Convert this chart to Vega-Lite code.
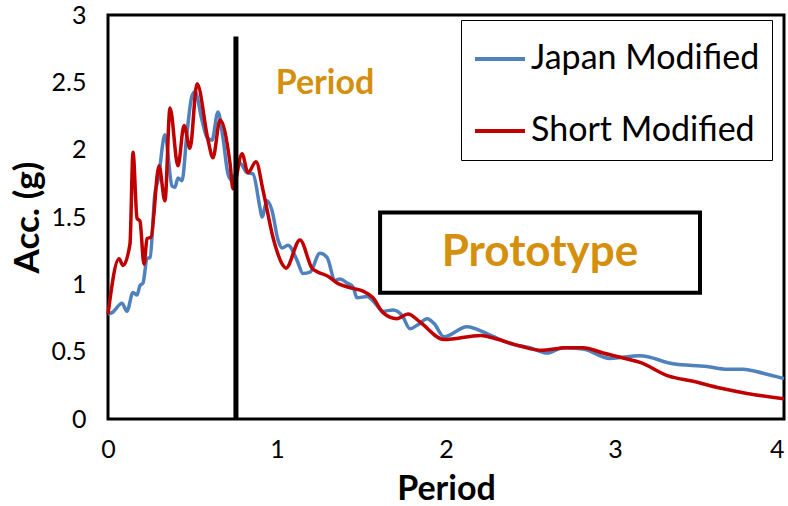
{
  "$schema": "https://vega.github.io/schema/vega-lite/v6.json",
  "width": 676,
  "height": 404,
  "autosize": {"type": "none"},
  "padding": {"left": 108, "top": 15, "right": 4, "bottom": 87},
  "background": "white",
  "config": {
    "font": "Lato",
    "view": {"stroke": "black", "strokeWidth": 3},
    "axis": {"grid": false, "ticks": false, "domain": false, "labelColor": "black", "titleColor": "black", "labelFont": "Lato", "titleFont": "Lato"}
  },
  "datasets": {
    "spectra": [
      {"series": "Japan Modified", "period": 0.000, "acc": 0.78},
      {"series": "Japan Modified", "period": 0.024, "acc": 0.79},
      {"series": "Japan Modified", "period": 0.083, "acc": 0.86},
      {"series": "Japan Modified", "period": 0.112, "acc": 0.80},
      {"series": "Japan Modified", "period": 0.148, "acc": 0.94},
      {"series": "Japan Modified", "period": 0.172, "acc": 0.92},
      {"series": "Japan Modified", "period": 0.189, "acc": 0.99},
      {"series": "Japan Modified", "period": 0.207, "acc": 1.01},
      {"series": "Japan Modified", "period": 0.231, "acc": 1.19},
      {"series": "Japan Modified", "period": 0.249, "acc": 1.20},
      {"series": "Japan Modified", "period": 0.278, "acc": 1.68},
      {"series": "Japan Modified", "period": 0.296, "acc": 1.77},
      {"series": "Japan Modified", "period": 0.337, "acc": 2.11},
      {"series": "Japan Modified", "period": 0.379, "acc": 1.73},
      {"series": "Japan Modified", "period": 0.396, "acc": 1.72},
      {"series": "Japan Modified", "period": 0.414, "acc": 1.79},
      {"series": "Japan Modified", "period": 0.438, "acc": 1.77},
      {"series": "Japan Modified", "period": 0.467, "acc": 2.12},
      {"series": "Japan Modified", "period": 0.497, "acc": 2.40},
      {"series": "Japan Modified", "period": 0.515, "acc": 2.43},
      {"series": "Japan Modified", "period": 0.556, "acc": 2.22},
      {"series": "Japan Modified", "period": 0.586, "acc": 2.09},
      {"series": "Japan Modified", "period": 0.615, "acc": 2.07},
      {"series": "Japan Modified", "period": 0.651, "acc": 2.28},
      {"series": "Japan Modified", "period": 0.680, "acc": 2.09},
      {"series": "Japan Modified", "period": 0.710, "acc": 1.82},
      {"series": "Japan Modified", "period": 0.734, "acc": 1.77},
      {"series": "Japan Modified", "period": 0.781, "acc": 1.90},
      {"series": "Japan Modified", "period": 0.822, "acc": 1.83},
      {"series": "Japan Modified", "period": 0.858, "acc": 1.82},
      {"series": "Japan Modified", "period": 0.899, "acc": 1.57},
      {"series": "Japan Modified", "period": 0.911, "acc": 1.50},
      {"series": "Japan Modified", "period": 0.941, "acc": 1.62},
      {"series": "Japan Modified", "period": 0.970, "acc": 1.55},
      {"series": "Japan Modified", "period": 1.006, "acc": 1.33},
      {"series": "Japan Modified", "period": 1.030, "acc": 1.27},
      {"series": "Japan Modified", "period": 1.065, "acc": 1.29},
      {"series": "Japan Modified", "period": 1.118, "acc": 1.18},
      {"series": "Japan Modified", "period": 1.154, "acc": 1.08},
      {"series": "Japan Modified", "period": 1.195, "acc": 1.09},
      {"series": "Japan Modified", "period": 1.254, "acc": 1.23},
      {"series": "Japan Modified", "period": 1.296, "acc": 1.20},
      {"series": "Japan Modified", "period": 1.343, "acc": 1.03},
      {"series": "Japan Modified", "period": 1.373, "acc": 1.04},
      {"series": "Japan Modified", "period": 1.414, "acc": 1.01},
      {"series": "Japan Modified", "period": 1.450, "acc": 0.98},
      {"series": "Japan Modified", "period": 1.473, "acc": 0.90},
      {"series": "Japan Modified", "period": 1.533, "acc": 0.91},
      {"series": "Japan Modified", "period": 1.580, "acc": 0.86},
      {"series": "Japan Modified", "period": 1.627, "acc": 0.80},
      {"series": "Japan Modified", "period": 1.686, "acc": 0.81},
      {"series": "Japan Modified", "period": 1.740, "acc": 0.77},
      {"series": "Japan Modified", "period": 1.787, "acc": 0.67},
      {"series": "Japan Modified", "period": 1.834, "acc": 0.70},
      {"series": "Japan Modified", "period": 1.888, "acc": 0.745},
      {"series": "Japan Modified", "period": 1.929, "acc": 0.71},
      {"series": "Japan Modified", "period": 1.988, "acc": 0.61},
      {"series": "Japan Modified", "period": 2.124, "acc": 0.685},
      {"series": "Japan Modified", "period": 2.249, "acc": 0.63},
      {"series": "Japan Modified", "period": 2.379, "acc": 0.56},
      {"series": "Japan Modified", "period": 2.497, "acc": 0.53},
      {"series": "Japan Modified", "period": 2.598, "acc": 0.49},
      {"series": "Japan Modified", "period": 2.692, "acc": 0.53},
      {"series": "Japan Modified", "period": 2.811, "acc": 0.52},
      {"series": "Japan Modified", "period": 2.970, "acc": 0.45},
      {"series": "Japan Modified", "period": 3.148, "acc": 0.47},
      {"series": "Japan Modified", "period": 3.343, "acc": 0.41},
      {"series": "Japan Modified", "period": 3.544, "acc": 0.39},
      {"series": "Japan Modified", "period": 3.663, "acc": 0.37},
      {"series": "Japan Modified", "period": 3.757, "acc": 0.37},
      {"series": "Japan Modified", "period": 3.876, "acc": 0.34},
      {"series": "Japan Modified", "period": 4.000, "acc": 0.30},
      {"series": "Short Modified", "period": 0.000, "acc": 0.78},
      {"series": "Short Modified", "period": 0.065, "acc": 1.19},
      {"series": "Short Modified", "period": 0.089, "acc": 1.14},
      {"series": "Short Modified", "period": 0.130, "acc": 1.30},
      {"series": "Short Modified", "period": 0.148, "acc": 1.98},
      {"series": "Short Modified", "period": 0.172, "acc": 1.49},
      {"series": "Short Modified", "period": 0.189, "acc": 1.47},
      {"series": "Short Modified", "period": 0.213, "acc": 1.15},
      {"series": "Short Modified", "period": 0.231, "acc": 1.34},
      {"series": "Short Modified", "period": 0.254, "acc": 1.35},
      {"series": "Short Modified", "period": 0.302, "acc": 1.88},
      {"series": "Short Modified", "period": 0.337, "acc": 1.62},
      {"series": "Short Modified", "period": 0.367, "acc": 2.31},
      {"series": "Short Modified", "period": 0.414, "acc": 1.88},
      {"series": "Short Modified", "period": 0.450, "acc": 2.18},
      {"series": "Short Modified", "period": 0.485, "acc": 2.01},
      {"series": "Short Modified", "period": 0.527, "acc": 2.49},
      {"series": "Short Modified", "period": 0.592, "acc": 2.07},
      {"series": "Short Modified", "period": 0.621, "acc": 1.94},
      {"series": "Short Modified", "period": 0.663, "acc": 2.22},
      {"series": "Short Modified", "period": 0.722, "acc": 1.90},
      {"series": "Short Modified", "period": 0.740, "acc": 1.71},
      {"series": "Short Modified", "period": 0.793, "acc": 1.97},
      {"series": "Short Modified", "period": 0.828, "acc": 1.83},
      {"series": "Short Modified", "period": 0.876, "acc": 1.91},
      {"series": "Short Modified", "period": 0.917, "acc": 1.70},
      {"series": "Short Modified", "period": 0.976, "acc": 1.35},
      {"series": "Short Modified", "period": 1.036, "acc": 1.14},
      {"series": "Short Modified", "period": 1.053, "acc": 1.12},
      {"series": "Short Modified", "period": 1.136, "acc": 1.33},
      {"series": "Short Modified", "period": 1.207, "acc": 1.12},
      {"series": "Short Modified", "period": 1.243, "acc": 1.09},
      {"series": "Short Modified", "period": 1.302, "acc": 1.06},
      {"series": "Short Modified", "period": 1.355, "acc": 1.01},
      {"series": "Short Modified", "period": 1.450, "acc": 0.97},
      {"series": "Short Modified", "period": 1.509, "acc": 0.95},
      {"series": "Short Modified", "period": 1.568, "acc": 0.90},
      {"series": "Short Modified", "period": 1.627, "acc": 0.79},
      {"series": "Short Modified", "period": 1.710, "acc": 0.745},
      {"series": "Short Modified", "period": 1.775, "acc": 0.78},
      {"series": "Short Modified", "period": 1.846, "acc": 0.72},
      {"series": "Short Modified", "period": 1.988, "acc": 0.59},
      {"series": "Short Modified", "period": 2.207, "acc": 0.62},
      {"series": "Short Modified", "period": 2.284, "acc": 0.60},
      {"series": "Short Modified", "period": 2.444, "acc": 0.54},
      {"series": "Short Modified", "period": 2.562, "acc": 0.51},
      {"series": "Short Modified", "period": 2.716, "acc": 0.53},
      {"series": "Short Modified", "period": 2.811, "acc": 0.53},
      {"series": "Short Modified", "period": 2.929, "acc": 0.49},
      {"series": "Short Modified", "period": 3.089, "acc": 0.44},
      {"series": "Short Modified", "period": 3.148, "acc": 0.42},
      {"series": "Short Modified", "period": 3.314, "acc": 0.32},
      {"series": "Short Modified", "period": 3.462, "acc": 0.28},
      {"series": "Short Modified", "period": 3.621, "acc": 0.23},
      {"series": "Short Modified", "period": 3.781, "acc": 0.19},
      {"series": "Short Modified", "period": 4.000, "acc": 0.15}
    ],
    "periodMarker": [{"period": 0.757, "acc": 0, "accTop": 2.84}],
    "box": [{"x0": 1.61, "x1": 3.503, "y0": 0.938, "y1": 1.534}],
    "notes": [
      {"label": "Prototype", "period": 2.556, "acc": 1.236, "size": 44},
      {"label": "Period", "period": 1.284, "acc": 2.49, "size": 34}
    ]
  },
  "layer": [
    {
      "data": {"name": "spectra"},
      "mark": {"type": "line", "interpolate": "monotone", "strokeWidth": 3.5},
      "encoding": {
        "x": {
          "field": "period", "type": "quantitative",
          "scale": {"domain": [0, 4], "nice": false, "zero": false},
          "axis": {
            "values": [0, 1, 2, 3, 4], "title": "Period", "labelFontSize": 25, "labelPadding": 18, "labelFlush": false,
            "labelAlign": {"condition": {"test": "datum.value == 4", "value": "right"}, "value": "center"},
            "titleFontSize": 34, "titleFontWeight": "bold", "titlePadding": 10, "format": "~g"
          }
        },
        "y": {
          "field": "acc", "type": "quantitative",
          "scale": {"domain": [0, 3], "nice": false},
          "axis": {"values": [0, 0.5, 1, 1.5, 2, 2.5, 3], "title": "Acc. (g)", "labelFontSize": 25, "labelPadding": 22, "titleFontSize": 35, "titleFontWeight": "bold", "titlePadding": 6, "format": "~g"}
        },
        "color": {
          "field": "series", "type": "nominal",
          "scale": {"domain": ["Japan Modified", "Short Modified"], "range": ["#4F81BD", "#C00000"]},
          "legend": {
            "title": null, "orient": "none", "legendX": 353, "legendY": 5,
            "strokeColor": "black", "fillColor": "white", "padding": 12,
            "symbolType": "stroke", "symbolSize": 2500, "symbolStrokeWidth": 4,
            "labelFontSize": 34, "labelFont": "Lato", "labelColor": "black", "labelOffset": 4,
            "rowPadding": 28, "labelLimit": 400
          }
        }
      }
    },
    {
      "data": {"name": "periodMarker"},
      "mark": {"type": "rule", "color": "black", "strokeWidth": 5},
      "encoding": {
        "x": {"field": "period", "type": "quantitative"},
        "y": {"field": "acc", "type": "quantitative"},
        "y2": {"field": "accTop"}
      }
    },
    {
      "data": {"name": "box"},
      "mark": {"type": "rect", "fill": "white", "stroke": "black", "strokeWidth": 4},
      "encoding": {
        "x": {"field": "x0", "type": "quantitative"},
        "x2": {"field": "x1"},
        "y": {"field": "y0", "type": "quantitative"},
        "y2": {"field": "y1"}
      }
    },
    {
      "data": {"name": "notes"},
      "mark": {"type": "text", "font": "Lato", "fontWeight": "bold", "color": "#D4900C", "align": "center", "baseline": "middle"},
      "encoding": {
        "x": {"field": "period", "type": "quantitative"},
        "y": {"field": "acc", "type": "quantitative"},
        "text": {"field": "label"},
        "size": {"field": "size", "type": "quantitative", "scale": null, "legend": null}
      }
    }
  ]
}
